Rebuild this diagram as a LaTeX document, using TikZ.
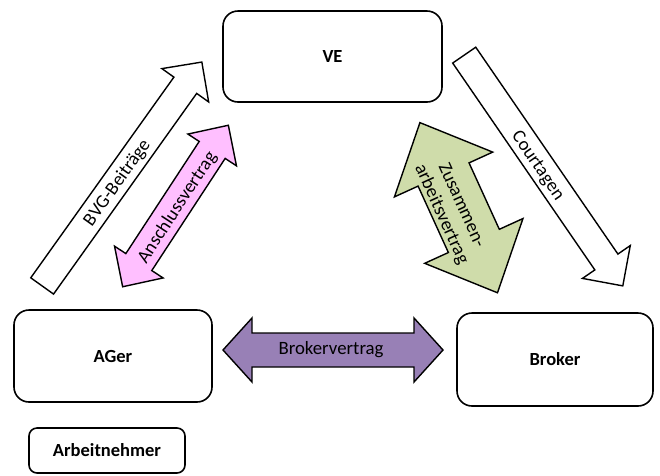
\documentclass[tikz,border=0pt]{standalone}
\usepackage{fontspec}
\setmainfont{Carlito}
\definecolor{pinkfill}{RGB}{255,191,255}
\definecolor{greenfill}{RGB}{207,220,170}
\definecolor{purplefill}{RGB}{152,128,182}
\newcommand\SingleBlockArrow[8]{%
  \begin{scope}[shift={(#1,#2)},rotate=#3]
    \draw[#8] ({-#4/2},{-#5}) -- ({#4/2-#7},{-#5}) -- ({#4/2-#7},{-#6}) -- ({#4/2},0)
      -- ({#4/2-#7},{#6}) -- ({#4/2-#7},{#5}) -- ({-#4/2},{#5}) -- cycle;
  \end{scope}}
\newcommand\DoubleBlockArrow[8]{%
  \begin{scope}[shift={(#1,#2)},rotate=#3]
    \draw[#8] ({-#4/2},0) -- ({-#4/2+#7},{#6}) -- ({-#4/2+#7},{#5}) -- ({#4/2-#7},{#5})
      -- ({#4/2-#7},{#6}) -- ({#4/2},0) -- ({#4/2-#7},{-#6}) -- ({#4/2-#7},{-#5})
      -- ({-#4/2+#7},{-#5}) -- ({-#4/2+#7},{-#6}) -- cycle;
  \end{scope}}
\begin{document}
\begin{tikzpicture}[x=1pt,y=-1pt,
  box/.style={draw=black,line width=1.6pt,rounded corners=15pt,fill=white,
    font=\fontsize{18.5}{22}\selectfont\bfseries,inner sep=0pt},
  blk/.style={draw=black,line width=1.4pt,line join=miter},
  lbl/.style={font=\fontsize{18.8}{22}\selectfont,inner sep=0pt,align=center}]
\useasboundingbox[fill=white] (0,0) rectangle (660,475);
% boxes
\node[box,minimum width=219pt,minimum height=91pt] (ve) at (332.5,56.5) {VE};
\node[box,minimum width=198pt,minimum height=92pt] (ager) at (113,356) {AGer};
\node[box,minimum width=196pt,minimum height=93pt] (broker) at (555,359.5) {Broker};
\node[box,rounded corners=8pt,minimum width=156pt,minimum height=45pt] (an) at (107,450.5) {Arbeitnehmer};
% block arrows
\SingleBlockArrow{122}{174}{54.5}{275}{14}{28.7}{28.5}{blk,fill=white}
\SingleBlockArrow{543.5}{170.5}{-55.5}{280}{14}{29}{29}{blk,fill=white}
\DoubleBlockArrow{175.5}{206}{56.8}{193}{15.5}{29}{29.5}{blk,fill=pinkfill}
\DoubleBlockArrow{458.7}{207.7}{-65.5}{187}{28}{54}{57}{blk,fill=greenfill}
\DoubleBlockArrow{333}{350}{0}{220}{17}{32}{29}{blk,fill=purplefill}
% labels
\node[lbl,rotate=54.5] (bvg) at (117.5,183) {BVG-Beiträge};
\node[lbl,rotate=-55.5] (court) at (537.5,166) {Courtagen};
\node[lbl,rotate=56.8] (ansch) at (177.5,207.5) {Anschlussvertrag};
\node[lbl,rotate=-65.5] (zus) at (451,210) {Zusammen-\\arbeitsvertrag};
\node[lbl] (bv) at (331,350) {Brokervertrag};
\end{tikzpicture}
\end{document}
